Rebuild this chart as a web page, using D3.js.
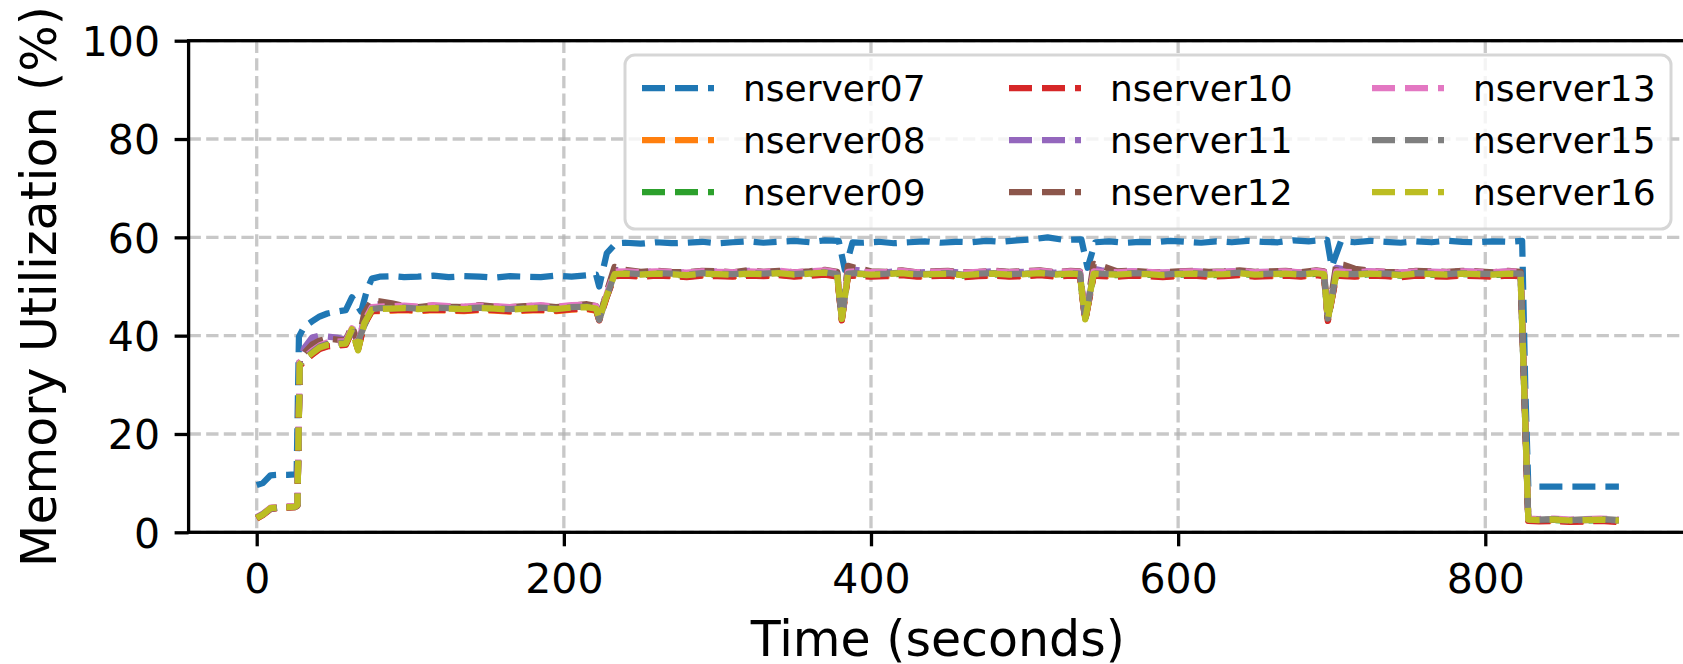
<!DOCTYPE html>
<html><head><meta charset="utf-8">
<script src="https://cdn.jsdelivr.net/npm/d3@7"></script>
<style>body{margin:0;background:#fff;} svg text{font-family:"DejaVu Sans",sans-serif;fill:#000;}</style>
</head><body><svg id="chart" width="1683" height="664"></svg>
<script>
const seriesNames = ["nserver07","nserver08","nserver09","nserver10","nserver11","nserver12","nserver13","nserver15","nserver16"];
const seriesColors = ["#1f77b4","#ff7f0e","#2ca02c","#d62728","#9467bd","#8c564b","#e377c2","#7f7f7f","#bcbd22"];
const xTicks = [0,200,400,600,800];
const yTicks = [0,20,40,60,80,100];
const xLabel = "Time (seconds)";
const yLabel = "Memory Utilization (%)";

// nserver07 has its own sampling times
const times07 = [
 0,4,9,15,20,25,26,27.5,31,36,
 41,46,52,58,62,68,72,75,80,88,
 96,105,115,125,135,145,155,165,175,185,
 195,205,215,221,223,228,234,240,250,260,
 270,280,290,300,310,320,330,340,350,360,
 370,379,383,388,395,405,415,425,435,445,
 455,465,475,485,495,505,515,525,537,541,
 546,555,565,575,585,595,605,615,625,635,
 645,655,665,675,685,697,700,706,715,725,
 735,745,755,765,775,785,795,805,815,824,
 826,828,835,845,855,865,875,887];
const nserver07 = [
 9.6,10.0,11.6,11.7,11.7,11.8,12.0,39.8,41.8,42.9,
 43.9,44.5,44.9,45.2,47.8,44.9,49.5,51.6,52.0,52.1,
 51.9,52.0,52.2,51.9,52.1,52.0,51.8,52.1,52.0,51.9,
 52.2,52.0,52.3,52.4,50.0,56.8,58.8,58.9,58.7,59.0,
 58.8,58.9,59.1,58.8,59.0,59.2,58.9,59.1,59.3,59.0,
 59.4,59.3,53.4,59.0,58.9,59.1,58.8,59.0,59.2,58.9,
 59.1,59.0,59.3,59.1,59.4,59.6,60.0,59.5,59.6,53.8,
 59.0,59.2,58.9,59.1,59.0,59.3,59.1,58.9,59.2,59.0,
 59.3,59.1,59.0,59.4,59.2,59.5,54.0,59.2,59.0,59.3,
 59.1,58.9,59.2,59.0,59.3,59.1,59.0,59.2,59.1,59.3,
 30.0,9.3,9.3,9.3,9.3,9.3,9.3,9.3];

// shared sampling times for the other servers
const times = [
 0,4,9,15,20,25,26.5,28,31,36,
 41,46,52,58,62,66,70,75,80,88,
 96,105,115,125,135,145,155,165,175,185,
 195,205,215,221,223,228,233,240,250,260,
 270,280,290,300,310,320,330,340,350,360,
 370,378,381,385,390,400,410,420,430,440,
 450,460,470,480,490,500,510,520,530,536,
 539.5,545,550,560,570,580,590,600,610,620,
 630,640,650,660,670,680,690,695,697.5,703,
 708,715,725,735,745,755,765,775,785,795,
 805,815,823,825.5,828,835,845,855,865,875,
 887];
const nserver08 = [
 2.8,3.5,4.8,5.0,5.0,5.1,5.5,33.9,35.0,36.2,
 37.4,37.9,38.1,38.2,41.0,37.3,42.3,45.0,45.0,45.1,
 45.2,45.0,45.2,45.1,45.0,45.2,45.1,44.9,45.1,45.2,
 45.0,45.3,45.4,45.1,43.2,48.0,52.2,52.3,52.1,52.3,
 52.2,52.0,52.3,52.2,52.1,52.3,52.2,52.4,52.1,52.3,
 52.5,52.1,43.2,52.2,52.3,52.1,52.2,52.4,52.1,52.2,
 52.3,52.0,52.2,52.3,52.1,52.2,52.4,52.1,52.3,52.2,
 43.1,52.3,52.2,52.1,52.3,52.2,52.0,52.2,52.3,52.1,
 52.2,52.4,52.1,52.2,52.3,52.1,52.4,52.2,43.1,52.3,
 52.2,52.1,52.3,52.2,52.0,52.3,52.2,52.1,52.3,52.2,
 52.1,52.3,52.2,27.4,2.4,2.3,2.4,2.2,2.3,2.4,
 2.2];
const nserver09 = [
 2.9,3.6,4.9,5.0,5.1,5.2,5.5,34.1,35.1,36.3,
 37.5,38.0,38.2,38.3,41.1,37.4,42.4,45.2,45.3,45.4,
 45.5,45.3,45.5,45.4,45.3,45.5,45.4,45.2,45.4,45.5,
 45.3,45.6,45.7,45.4,43.3,48.1,52.4,52.5,52.3,52.5,
 52.4,52.2,52.5,52.4,52.3,52.5,52.4,52.6,52.3,52.5,
 52.7,52.3,43.3,52.4,52.5,52.3,52.4,52.6,52.3,52.4,
 52.5,52.2,52.4,52.5,52.3,52.4,52.6,52.3,52.5,52.4,
 43.2,52.5,52.4,52.3,52.5,52.4,52.2,52.4,52.5,52.3,
 52.4,52.6,52.3,52.4,52.5,52.3,52.6,52.4,43.2,52.5,
 52.4,52.3,52.5,52.4,52.2,52.5,52.4,52.3,52.5,52.4,
 52.3,52.5,52.4,27.5,2.5,2.4,2.5,2.3,2.4,2.5,
 2.3];
const nserver10 = [
 2.8,3.5,4.7,5.0,5.0,5.1,5.4,33.8,34.9,36.1,
 37.3,37.8,38.0,38.1,40.9,37.2,42.2,45.0,45.1,45.2,
 45.3,45.1,45.3,45.2,45.1,45.3,45.2,45.0,45.2,45.3,
 45.1,45.4,45.5,45.2,43.1,47.9,52.1,52.2,52.0,52.2,
 52.1,51.9,52.2,52.1,52.0,52.2,52.1,52.3,52.0,52.2,
 52.4,52.0,43.1,52.1,52.2,52.0,52.1,52.3,52.0,52.1,
 52.2,51.9,52.1,52.2,52.0,52.1,52.3,52.0,52.2,52.1,
 43.0,52.2,52.1,52.0,52.2,52.1,51.9,52.1,52.2,52.0,
 52.1,52.3,52.0,52.1,52.2,52.0,52.3,52.1,43.0,52.2,
 52.1,52.0,52.2,52.1,51.9,52.2,52.1,52.0,52.2,52.1,
 52.0,52.2,52.1,27.3,2.3,2.2,2.3,2.1,2.2,2.3,
 2.1];
const nserver11 = [
 3.0,3.6,4.8,5.1,5.1,5.2,5.6,35.0,37.5,39.6,
 40.0,39.8,39.6,39.2,41.8,38.2,43.5,46.2,46.4,46.0,
 45.9,45.7,46.0,45.8,45.7,46.1,45.8,45.7,45.9,46.0,
 45.7,46.0,46.2,45.9,43.4,48.8,53.4,53.2,52.9,53.1,
 52.9,52.8,53.1,53.0,52.8,53.2,52.9,53.1,52.8,53.0,
 53.2,52.9,43.4,53.8,53.4,53.0,52.9,53.2,52.8,53.0,
 53.1,52.8,52.9,53.1,52.9,53.0,53.2,52.8,53.1,53.0,
 43.4,53.6,53.3,53.0,53.1,52.9,52.8,53.0,53.1,52.9,
 53.0,53.2,52.9,53.0,53.1,52.8,53.2,53.0,43.4,53.8,
 53.5,53.2,53.1,52.9,52.8,53.1,53.0,52.9,53.1,53.0,
 52.8,53.1,52.9,27.7,2.6,2.5,2.6,2.4,2.5,2.6,
 2.4];
const nserver12 = [
 3.0,3.7,4.9,5.1,5.2,5.2,5.6,34.8,36.5,38.2,
 39.0,39.4,39.2,39.0,42.0,38.5,44.5,47.2,47.0,46.6,
 46.0,45.8,46.1,45.9,45.8,46.2,45.9,45.8,46.0,46.1,
 45.8,46.1,46.4,46.0,43.5,49.0,54.0,53.4,53.0,53.2,
 53.0,52.9,53.2,53.1,52.9,53.3,53.0,53.2,52.9,53.1,
 53.4,53.0,43.5,54.2,53.8,53.1,53.0,53.3,52.9,53.1,
 53.2,52.9,53.0,53.2,53.0,53.1,53.3,52.9,53.2,53.1,
 43.5,54.6,54.2,53.1,53.2,53.0,52.9,53.1,53.2,53.0,
 53.1,53.3,53.0,53.1,53.2,52.9,53.3,53.1,43.5,54.6,
 54.4,53.6,53.2,53.0,52.9,53.2,53.1,53.0,53.2,53.1,
 52.9,53.2,53.0,27.8,2.6,2.5,2.6,2.5,2.6,2.6,
 2.5];
const nserver13 = [
 3.1,3.8,5.0,5.2,5.3,5.3,5.8,34.6,35.6,36.9,
 38.0,38.6,38.8,38.9,41.5,38.6,43.0,45.8,45.9,46.0,
 46.1,45.9,46.2,46.0,45.9,46.1,46.0,45.8,46.0,46.2,
 45.9,46.2,46.3,46.0,43.6,48.5,53.0,53.1,52.9,53.1,
 53.0,52.8,53.1,53.0,52.9,53.1,53.0,53.2,52.9,53.1,
 53.3,52.9,43.7,53.0,53.1,52.9,53.0,53.2,52.9,53.0,
 53.1,52.8,53.0,53.1,52.9,53.0,53.2,52.9,53.1,53.0,
 43.6,53.1,53.0,52.9,53.1,53.0,52.8,53.0,53.1,52.9,
 53.0,53.2,52.9,53.0,53.1,52.9,53.2,53.0,43.6,53.1,
 53.0,52.9,53.1,53.0,52.8,53.1,53.0,52.9,53.1,53.0,
 52.9,53.1,53.0,27.9,2.8,2.7,2.8,2.6,2.7,2.8,
 2.6];
const nserver15 = [
 3.0,3.7,4.8,5.0,5.1,5.1,5.5,34.0,35.4,36.6,
 37.8,38.3,38.5,38.6,41.0,38.8,42.0,45.4,45.6,45.6,
 45.7,45.5,45.7,45.6,45.5,45.7,45.6,45.4,45.6,45.7,
 45.5,45.8,45.9,45.6,43.2,48.0,52.6,52.7,52.5,52.7,
 52.6,52.4,52.7,52.6,52.5,52.7,52.6,52.8,52.5,52.7,
 52.9,52.5,43.6,52.6,52.7,52.5,52.6,52.8,52.5,52.6,
 52.7,52.4,52.6,52.7,52.5,52.6,52.8,52.5,52.7,52.6,
 43.5,52.7,52.6,52.5,52.7,52.6,52.4,52.6,52.7,52.5,
 52.6,52.8,52.5,52.6,52.7,52.5,52.8,52.6,43.5,52.7,
 52.6,52.5,52.7,52.6,52.4,52.7,52.6,52.5,52.7,52.6,
 52.5,52.7,52.6,27.8,2.7,2.6,2.7,2.5,2.6,2.7,
 2.5];
const nserver16 = [
 2.9,3.6,4.9,5.1,5.1,5.2,5.6,34.2,35.2,36.4,
 37.6,38.1,38.3,38.4,41.3,37.0,42.5,45.3,45.4,45.5,
 45.6,45.4,45.6,45.5,45.4,45.6,45.5,45.3,45.5,45.6,
 45.4,45.7,45.8,45.5,43.4,48.2,52.5,52.6,52.4,52.6,
 52.5,52.3,52.6,52.5,52.4,52.6,52.5,52.7,52.4,52.6,
 52.8,52.4,43.4,52.5,52.6,52.4,52.5,52.7,52.4,52.5,
 52.6,52.3,52.5,52.6,52.4,52.5,52.7,52.4,52.6,52.5,
 43.3,52.6,52.5,52.4,52.6,52.5,52.3,52.5,52.6,52.4,
 52.5,52.7,52.4,52.5,52.6,52.4,52.7,52.5,43.3,52.6,
 52.5,52.4,52.6,52.5,52.3,52.6,52.5,52.4,52.6,52.5,
 52.4,52.6,52.5,27.6,2.6,2.5,2.6,2.4,2.5,2.6,
 2.4];

const seriesValues = [nserver07,nserver08,nserver09,nserver10,nserver11,nserver12,nserver13,nserver15,nserver16];
const seriesTimes = [times07,times,times,times,times,times,times,times,times];

const svg = d3.select("#chart");
const P = {left:188.6, right:1687, top:40.7, bottom:532.3};
const x = d3.scaleLinear().domain([-44.35, 931.35]).range([P.left, P.right]);
const y = d3.scaleLinear().domain([0, 100]).range([P.bottom, P.top]);
const gridStyle = g => g.attr("stroke","#b0b0b0").attr("stroke-opacity",0.7)
  .attr("stroke-width",3.3).attr("stroke-dasharray","12.3,5.3");

// grid
svg.append("g").selectAll("line").data(xTicks).join("line")
  .attr("x1",d=>x(d)).attr("x2",d=>x(d)).attr("y1",P.top).attr("y2",P.bottom).call(gridStyle);
svg.append("g").selectAll("line").data(yTicks).join("line")
  .attr("y1",d=>y(d)).attr("y2",d=>y(d)).attr("x1",P.left).attr("x2",P.right).call(gridStyle);

// clip
svg.append("defs").append("clipPath").attr("id","clip").append("rect")
  .attr("x",P.left).attr("y",P.top).attr("width",P.right-P.left).attr("height",P.bottom-P.top);

// lines
const line = d3.line().x(d=>x(d[0])).y(d=>y(d[1]));
const gLines = svg.append("g").attr("clip-path","url(#clip)");
seriesNames.forEach((name,i)=>{
  const pts = seriesTimes[i].map((t,k)=>[t, seriesValues[i][k]]);
  gLines.append("path").datum(pts).attr("d",line)
    .attr("fill","none").attr("stroke",seriesColors[i]).attr("stroke-width",6.25)
    .attr("stroke-dasharray","23,10").attr("stroke-linejoin","round").attr("stroke-linecap","butt");
});

// spines
svg.append("rect").attr("x",P.left).attr("y",P.top).attr("width",P.right-P.left).attr("height",P.bottom-P.top)
  .attr("fill","none").attr("stroke","#000").attr("stroke-width",3.3);

// axes
const xAxis = svg.append("g").attr("transform",`translate(0,${P.bottom})`)
  .call(d3.axisBottom(x).tickValues(xTicks).tickSize(14).tickFormat(d3.format("d")));
xAxis.select(".domain").remove();
xAxis.selectAll(".tick line").attr("stroke","#000").attr("stroke-width",3.3);
xAxis.selectAll(".tick text").attr("y",61).attr("dy",null).attr("font-size",41).attr("font-family","DejaVu Sans").attr("fill","#000");

const yAxis = svg.append("g").attr("transform",`translate(${P.left},0)`)
  .call(d3.axisLeft(y).tickValues(yTicks).tickSize(14).tickPadding(14.6).tickFormat(d3.format("d")));
yAxis.select(".domain").remove();
yAxis.selectAll(".tick line").attr("stroke","#000").attr("stroke-width",3.3);
yAxis.selectAll(".tick text").attr("font-size",41).attr("dy","0.36em").attr("font-family","DejaVu Sans").attr("fill","#000");

// axis labels
svg.append("text").attr("x",(P.left+P.right)/2).attr("y",656).attr("text-anchor","middle")
  .attr("font-size",49).text(xLabel);
svg.append("text").attr("transform",`translate(56,${(P.top+P.bottom)/2}) rotate(-90)`)
  .attr("text-anchor","middle").attr("font-size",49).text(yLabel);

// legend
const lg = svg.append("g");
lg.append("rect").attr("x",625).attr("y",55).attr("width",1046).attr("height",174).attr("rx",10)
  .attr("fill","#fff").attr("fill-opacity",0.8).attr("stroke","#cccccc").attr("stroke-width",3).attr("stroke-opacity",0.8);
const colX = [642, 1009, 1372];
const rowY = [88, 140, 192];
seriesNames.forEach((name,i)=>{
  const c = Math.floor(i/3), r = i%3;
  lg.append("line").attr("x1",colX[c]).attr("x2",colX[c]+72).attr("y1",rowY[r]).attr("y2",rowY[r])
    .attr("stroke",seriesColors[i]).attr("stroke-width",6.25).attr("stroke-dasharray","23,10");
  lg.append("text").attr("x",colX[c]+101).attr("y",rowY[r]).attr("dy","0.35em")
    .attr("font-size",36).text(name);
});
</script></body></html>
